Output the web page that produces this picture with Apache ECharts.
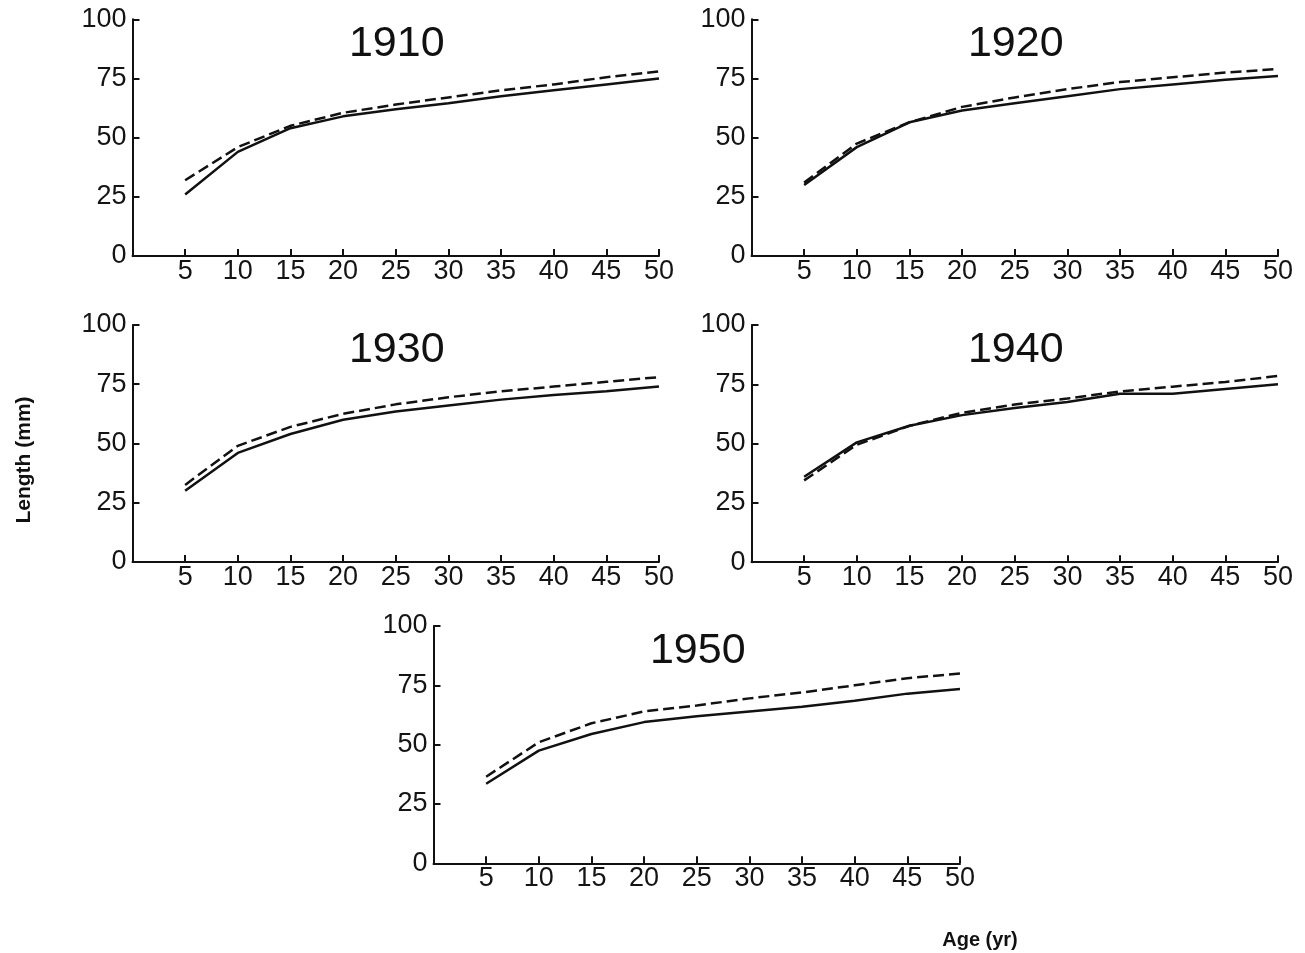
<!DOCTYPE html>
<html>
<head>
<meta charset="utf-8">
<script src="https://cdn.jsdelivr.net/npm/echarts@6/dist/echarts.min.js"></script>
<style>
html,body{margin:0;padding:0;background:#fff;}
#chart{width:1305px;height:953px;}
</style>
</head>
<body>
<div id="chart"></div>
<script>
// Ages (yr)
const ages = [5, 10, 15, 20, 25, 30, 35, 40, 45, 50];
const panelTitles = ['1910', '1920', '1930', '1940', '1950'];

// Length (mm), solid line
const solid1910 = [26, 44, 54, 59, 62, 64.5, 67.5, 70, 72.5, 75];
const solid1920 = [30, 46, 56.5, 61.5, 64.5, 67.5, 70.5, 72.5, 74.5, 76];
const solid1930 = [30, 46, 54, 60, 63.5, 66, 68.5, 70.5, 72, 74];
const solid1940 = [36, 50.5, 57.5, 62, 65, 67.5, 71, 71, 73, 75];
const solid1950 = [33.5, 47.5, 54.5, 59.5, 62, 64, 66, 68.5, 71.5, 73.5];

// Length (mm), dashed line
const dashed1910 = [32, 46, 55, 60.5, 64, 67, 70, 72.5, 75.5, 78];
const dashed1920 = [31, 47.5, 56.5, 63, 67, 70.5, 73.5, 75.5, 77.5, 79];
const dashed1930 = [32.5, 49, 57, 62.5, 66.5, 69.5, 72, 74, 76, 78];
const dashed1940 = [34.5, 49.5, 57.5, 63, 66.5, 69, 72, 74, 76, 78.5];
const dashed1950 = [36.5, 51, 59, 64, 66.5, 69.5, 72, 75, 78, 80];

const xTicks = [5, 10, 15, 20, 25, 30, 35, 40, 45, 50];
const yTicks = [0, 25, 50, 75, 100];
const yAxisTitle = 'Length (mm)';
const xAxisTitle = 'Age (yr)';

const solids = [solid1910, solid1920, solid1930, solid1940, solid1950];
const dasheds = [dashed1910, dashed1920, dashed1930, dashed1940, dashed1950];

const W = 526.5;
const grids = [
  {left: 132.5, top: 19.3, width: W, height: 236.7},
  {left: 751.5, top: 19.3, width: W, height: 236.7},
  {left: 132.5, top: 325, width: W, height: 236.9},
  {left: 751.5, top: 325, width: W, height: 237.2},
  {left: 433.5, top: 626, width: W, height: 237.3}
];

const FONT = '"Liberation Sans", Arial, Helvetica, sans-serif';
const TXT = '#141414';
const LINE = '#111111';

const xAxes = [], yAxes = [], series = [], graphics = [];
grids.forEach((g, i) => {
  xAxes.push({
    type: 'value', gridIndex: i, min: 0, max: 50, interval: 5,
    axisLine: {show: true, lineStyle: {color: LINE, width: 2}},
    axisTick: {show: true, inside: true, length: 7, lineStyle: {color: LINE, width: 2}},
    axisLabel: {
      show: true, margin: 2, fontSize: 27, color: TXT, fontFamily: FONT,
      formatter: v => (xTicks.indexOf(v) >= 0 ? String(v) : '')
    },
    splitLine: {show: false}
  });
  yAxes.push({
    type: 'value', gridIndex: i, min: 0, max: 100, interval: 25,
    axisLine: {show: true, lineStyle: {color: LINE, width: 2}},
    axisTick: {show: true, inside: true, length: 7, lineStyle: {color: LINE, width: 2}},
    axisLabel: {
      show: true, margin: 6, fontSize: 27, color: TXT, fontFamily: FONT,
      formatter: v => (yTicks.indexOf(v) >= 0 ? String(v) : '')
    },
    splitLine: {show: false}
  });
  series.push({
    type: 'line', xAxisIndex: i, yAxisIndex: i, name: panelTitles[i] + ' solid',
    data: ages.map((a, k) => [a, solids[i][k]]),
    showSymbol: false, symbol: 'none', smooth: false, silent: true,
    lineStyle: {color: LINE, width: 2.5, type: 'solid'}
  });
  series.push({
    type: 'line', xAxisIndex: i, yAxisIndex: i, name: panelTitles[i] + ' dashed',
    data: ages.map((a, k) => [a, dasheds[i][k]]),
    showSymbol: false, symbol: 'none', smooth: false, silent: true,
    lineStyle: {color: LINE, width: 2.5, type: [11, 5]}
  });
  graphics.push({
    type: 'text',
    x: g.left + g.width / 2 + 1,
    y: g.top + 25,
    style: {
      text: panelTitles[i], font: '43px ' + FONT, fill: '#111',
      textAlign: 'center', textVerticalAlign: 'middle'
    }
  });
});

graphics.push({
  type: 'text', x: 24, y: 460, rotation: Math.PI / 2,
  style: {
    text: yAxisTitle, font: 'bold 21px ' + FONT, fill: '#111',
    textAlign: 'center', textVerticalAlign: 'middle'
  }
});
graphics.push({
  type: 'text', x: 980, y: 940,
  style: {
    text: xAxisTitle, font: 'bold 20px ' + FONT, fill: '#111',
    textAlign: 'center', textVerticalAlign: 'middle'
  }
});

const chart = echarts.init(document.getElementById('chart'), null, {renderer: 'canvas'});
chart.setOption({
  animation: false,
  backgroundColor: '#fff',
  grid: grids.map(g => Object.assign({containLabel: false}, g)),
  xAxis: xAxes,
  yAxis: yAxes,
  series: series,
  graphic: graphics
});
</script>
</body>
</html>
